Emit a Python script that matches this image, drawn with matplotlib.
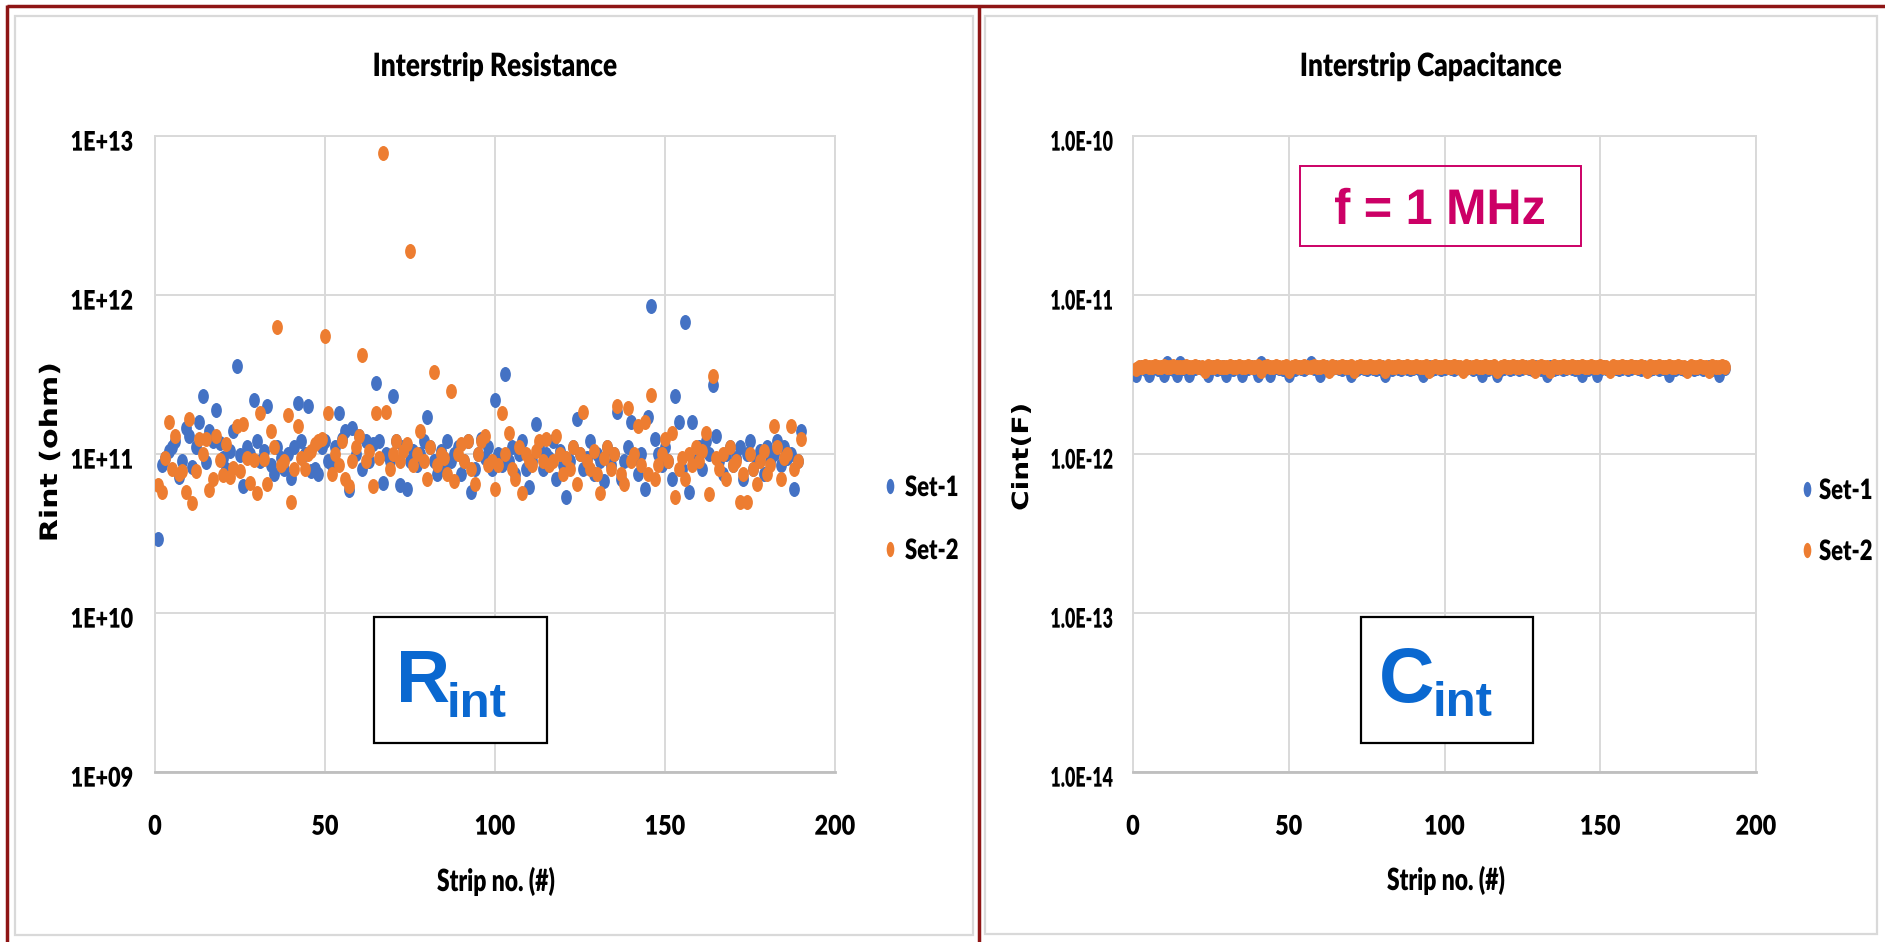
import matplotlib
matplotlib.use("Agg")
import matplotlib.pyplot as plt
from matplotlib import patheffects
from matplotlib.path import Path
from matplotlib.transforms import Affine2D
from matplotlib.patches import Rectangle
from matplotlib.textpath import TextPath
from matplotlib.font_manager import FontProperties
from matplotlib.ticker import NullLocator

# ---------------------------------------------------------------- data
strips = list(range(1, 191))

# Interstrip resistance, in units of 1e10 ohm
rint_set1 = [
    2.9, 8.5, 9.5, 10.5, 11, 12, 7.2, 9, 14.5, 13,
    8.3, 11, 16, 23, 8.9, 14, 12, 19, 11.7, 9.5,
    8, 10.5, 14, 36, 9.8, 6.3, 11, 10, 22, 12,
    9, 10.5, 20, 8.5, 7.5, 11, 9.5, 8, 10, 7.1,
    11, 21, 12, 10, 20, 7.8, 8, 7.5, 11, 12,
    9, 8.5, 11, 18, 12.5, 14, 5.9, 14.5, 10, 13,
    8, 12, 9, 11.5, 28, 12, 6.6, 10, 9, 23,
    12, 6.4, 11, 6, 9, 10.5, 8.5, 10, 12, 17,
    11, 9, 7.5, 10.5, 8, 12, 9, 10, 11, 7.5,
    9, 12, 5.8, 8, 10, 12.5, 9.5, 11, 8, 22,
    10, 8.5, 32, 9, 11, 7.5, 10, 12, 8, 6.2,
    9, 15.5, 11, 8, 10, 9.5, 12, 7, 10.5, 8.5,
    5.4, 9, 11, 16.5, 10, 8, 9.5, 12, 7.5, 10,
    9, 6.8, 11, 8.5, 10, 18.5, 7, 9, 11, 16,
    9.5, 7.5, 10, 6, 17, 85, 12.5, 10, 8.5, 11,
    9, 7, 23, 16, 8, 68, 5.8, 16, 9, 11,
    8, 12, 10, 27, 13, 9, 7.5, 10, 11, 8.5,
    9.5, 11, 7, 10, 12, 8, 9, 10.5, 7.5, 11,
    9, 10, 12, 8.5, 11, 9.5, 10, 6, 9, 14,
]
rint_set2 = [
    6.4, 5.8, 9.5, 16, 8, 13, 7.5, 7.8, 5.8, 16.5,
    4.9, 7.8, 12.5, 10, 12.5, 5.9, 7, 13, 9.2, 7.4,
    11.5, 7.2, 8.2, 15, 7.8, 15.5, 9.5, 6.6, 9.2, 5.7,
    18, 9.3, 6.5, 14, 11, 63, 8.5, 9, 17.5, 5,
    8, 15, 9.5, 8, 10, 10.5, 11.5, 12, 12.5, 55,
    18, 7.5, 10, 8.5, 12, 7, 6.3, 9, 11, 13,
    42, 9, 10.5, 6.3, 18, 9.5, 780, 18.5, 8, 10,
    12, 9, 10.5, 11.5, 190, 8.5, 10, 14, 9, 7,
    11, 33, 8.5, 10, 9.5, 7.5, 25, 6.8, 10, 11.5,
    9, 12, 8, 6.5, 10, 12, 13, 8.5, 9, 6,
    8.5, 18, 10, 13.5, 8, 7, 11, 5.7, 10, 9,
    8.5, 10.5, 12, 9, 12.5, 8.5, 9, 13, 10, 7.5,
    9.5, 8, 11, 6.5, 10, 18.5, 9, 8, 10.5, 7.5,
    5.7, 9.5, 11, 8, 10, 20, 7.5, 6.5, 19.5, 9,
    10, 15, 8.5, 16, 7.5, 23.5, 7, 8.5, 10, 12.5,
    9, 13.5, 5.4, 8, 9.5, 7, 10, 8.5, 11, 9,
    10.5, 13.5, 5.6, 31, 9.5, 8, 10, 7, 11, 8.5,
    9, 5, 7.5, 5, 10, 8, 6.5, 9, 10.5, 7.5,
    8.5, 15, 11, 7, 9.5, 10, 15, 8, 9, 12.5,
]

# Interstrip capacitance at 1 MHz, in units of 1e-12 F
cint_set1 = [
    3.15, 3.45, 3.5, 3.4, 3.15, 3.45, 3.5, 3.4, 3.45, 3.15,
    3.75, 3.45, 3.4, 3.15, 3.75, 3.45, 3.5, 3.15, 3.4, 3.45,
    3.5, 3.45, 3.4, 3.15, 3.45, 3.5, 3.4, 3.45, 3.5, 3.15,
    3.45, 3.4, 3.5, 3.45, 3.15, 3.4, 3.45, 3.5, 3.45, 3.15,
    3.75, 3.45, 3.4, 3.15, 3.45, 3.5, 3.45, 3.4, 3.5, 3.15,
    3.45, 3.4, 3.5, 3.45, 3.4, 3.5, 3.75, 3.45, 3.4, 3.15,
    3.45, 3.5, 3.4, 3.45, 3.5, 3.45, 3.4, 3.5, 3.45, 3.15,
    3.45, 3.4, 3.5, 3.45, 3.4, 3.5, 3.45, 3.4, 3.45, 3.5,
    3.15, 3.45, 3.4, 3.5, 3.45, 3.4, 3.5, 3.45, 3.4, 3.45,
    3.5, 3.4, 3.15, 3.45, 3.5, 3.4, 3.45, 3.5, 3.4, 3.45,
    3.5, 3.45, 3.4, 3.5, 3.45, 3.4, 3.45, 3.5, 3.4, 3.45,
    3.5, 3.15, 3.45, 3.4, 3.5, 3.45, 3.15, 3.4, 3.45, 3.5,
    3.4, 3.45, 3.5, 3.4, 3.45, 3.5, 3.45, 3.4, 3.5, 3.45,
    3.4, 3.45, 3.15, 3.5, 3.4, 3.45, 3.5, 3.4, 3.45, 3.5,
    3.45, 3.4, 3.5, 3.15, 3.45, 3.4, 3.5, 3.45, 3.15, 3.4,
    3.5, 3.45, 3.4, 3.5, 3.45, 3.4, 3.45, 3.5, 3.4, 3.45,
    3.5, 3.45, 3.4, 3.5, 3.45, 3.4, 3.45, 3.5, 3.4, 3.45,
    3.5, 3.15, 3.45, 3.4, 3.5, 3.45, 3.4, 3.45, 3.5, 3.4,
    3.45, 3.5, 3.4, 3.45, 3.5, 3.4, 3.45, 3.15, 3.5, 3.45,
]
cint_set2 = [
    3.4, 3.55, 3.5, 3.6, 3.55, 3.5, 3.6, 3.55, 3.5, 3.6,
    3.55, 3.5, 3.6, 3.55, 3.5, 3.55, 3.6, 3.5, 3.55, 3.6,
    3.5, 3.55, 3.35, 3.6, 3.55, 3.5, 3.6, 3.55, 3.5, 3.55,
    3.6, 3.5, 3.55, 3.6, 3.5, 3.55, 3.6, 3.55, 3.5, 3.6,
    3.35, 3.55, 3.6, 3.5, 3.55, 3.6, 3.55, 3.5, 3.6, 3.35,
    3.55, 3.6, 3.5, 3.55, 3.6, 3.55, 3.5, 3.6, 3.55, 3.5,
    3.6, 3.55, 3.35, 3.6, 3.5, 3.55, 3.6, 3.55, 3.5, 3.6,
    3.35, 3.55, 3.6, 3.5, 3.55, 3.6, 3.55, 3.5, 3.6, 3.55,
    3.35, 3.6, 3.55, 3.5, 3.6, 3.55, 3.5, 3.6, 3.55, 3.5,
    3.6, 3.55, 3.5, 3.6, 3.35, 3.55, 3.6, 3.5, 3.55, 3.6,
    3.55, 3.5, 3.6, 3.55, 3.5, 3.35, 3.6, 3.55, 3.5, 3.6,
    3.55, 3.5, 3.6, 3.55, 3.5, 3.6, 3.35, 3.55, 3.6, 3.5,
    3.55, 3.6, 3.5, 3.55, 3.6, 3.55, 3.5, 3.6, 3.35, 3.55,
    3.6, 3.5, 3.55, 3.35, 3.6, 3.55, 3.5, 3.6, 3.55, 3.5,
    3.6, 3.55, 3.5, 3.6, 3.55, 3.5, 3.6, 3.55, 3.5, 3.6,
    3.55, 3.5, 3.35, 3.6, 3.55, 3.5, 3.6, 3.55, 3.5, 3.6,
    3.55, 3.5, 3.6, 3.55, 3.35, 3.6, 3.5, 3.55, 3.6, 3.5,
    3.55, 3.6, 3.5, 3.55, 3.6, 3.55, 3.5, 3.35, 3.6, 3.55,
    3.5, 3.6, 3.55, 3.5, 3.35, 3.6, 3.55, 3.5, 3.6, 3.55,
]

series_names = ["Set-1", "Set-2"]
x_ticks = [0, 50, 100, 150, 200]
x_tick_labels = ["0", "50", "100", "150", "200"]
rint_ticks = [1e9, 1e10, 1e11, 1e12, 1e13]
rint_tick_labels = ["1E+09", "1E+10", "1E+11", "1E+12", "1E+13"]
cint_ticks = [1e-14, 1e-13, 1e-12, 1e-11, 1e-10]
cint_tick_labels = ["1.0E-14", "1.0E-13", "1.0E-12", "1.0E-11", "1.0E-10"]

# ---------------------------------------------------------------- style
W, H = 1885, 942
BLUE = "#4472C4"
ORANGE = "#ED7D31"
GRID = "#D9D9D9"
FRAME_RED = "#8E1515"
LABEL_BLUE = "#0A68D0"
MAGENTA = "#CC0066"
SANS = ["Lato", "DejaVu Sans"]
WIDE = ["DejaVu Sans"]
ARIAL = ["Liberation Sans", "DejaVu Sans"]
CAP = 0.7165  # cap height / em for Lato
HEAVY = "heavy"

# tall ellipse markers
data_marker = Path.unit_circle().transformed(Affine2D().scale(0.72, 1.0))
legend_marker = Path.unit_circle().transformed(Affine2D().scale(0.5, 1.0))

fig = plt.figure(figsize=(W / 100, H / 100), dpi=100, facecolor="white")


def px_axes(left, top, right, bottom):
    return fig.add_axes([left / W, 1 - bottom / H, (right - left) / W, (bottom - top) / H])


def style_axes(ax, yticks):
    ax.set_yscale("log")
    ax.set_xlim(0, 200)
    ax.set_ylim(yticks[0], yticks[-1])
    ax.set_xticks(x_ticks)
    ax.set_yticks(yticks)
    ax.yaxis.set_minor_locator(NullLocator())
    ax.tick_params(axis="both", length=0, labelbottom=False, labelleft=False)
    ax.grid(True, color=GRID, linewidth=1.4)
    ax.set_axisbelow(True)
    for sp in ax.spines.values():
        sp.set_color(GRID)
        sp.set_linewidth(1.4)
    ax.spines["bottom"].set_color("#BFBFBF")
    ax.spines["bottom"].set_linewidth(2)


ax1 = px_axes(155, 136, 835, 772)
ax2 = px_axes(1133, 136, 1756, 772)

rint1 = [v * 1e10 for v in rint_set1]
rint2 = [v * 1e10 for v in rint_set2]
cint1 = [v * 1e-12 for v in cint_set1]
cint2 = [v * 1e-12 for v in cint_set2]

for ax, s1, s2, yt in ((ax1, rint1, rint2, rint_ticks),
                       (ax2, cint1, cint2, cint_ticks)):
    ax.plot(strips, s1, ls="none", marker=data_marker, ms=10.8, color=BLUE,
            markeredgewidth=0, zorder=3)
    ax.plot(strips, s2, ls="none", marker=data_marker, ms=10.8, color=ORANGE,
            markeredgewidth=0, zorder=4)
    style_axes(ax, yt)

# ---------------------------------------------------------------- overlay (pixel coordinates, y down)
ov = fig.add_axes([0, 0, 1, 1])
ov.set_xlim(0, W)
ov.set_ylim(H, 0)
ov.axis("off")
ov.patch.set_alpha(0)


class Stretch(patheffects.AbstractPathEffect):
    """Stretch drawn text vertically about a fixed y position (display px)."""

    def __init__(self, sy, y0):
        super().__init__()
        self._sy = sy
        self._y0 = y0

    def draw_path(self, renderer, gc, tpath, affine, rgbFace=None):
        stretch = Affine2D().translate(0, -self._y0).scale(1, self._sy).translate(0, self._y0)
        renderer.draw_path(gc, tpath, affine + stretch, rgbFace)


def ink_width(s, family, em, weight=HEAVY):
    path = TextPath((0, 0), s, size=em, prop=FontProperties(family=family, weight=weight))
    return path.get_extents().width


def put_text(x, y, s, family, em, sx=1.0, weight=HEAVY, color="black",
             ha="left", va="baseline", rotation=0, zorder=6):
    """Text of height `em` px whose width is scaled by sx (done as a smaller
    font stretched back up vertically)."""
    t = ov.text(x, y, s, fontfamily=family, fontsize=em * sx * 0.72, fontweight=weight,
                color=color, ha=ha, va=va, rotation=rotation, zorder=zorder)
    if sx != 1.0:
        y_disp = ov.transData.transform((x, y))[1]
        t.set_path_effects([Stretch(1.0 / sx, y_disp)])
    return t


def to_px(ax, x, y):
    dx, dy = ax.transData.transform((x, y))
    return dx, H - dy


# chart-area borders
for (x0, y0, x1, y1) in ((15, 16, 973, 935), (985, 16, 1877, 934)):
    ov.add_patch(Rectangle((x0, y0), x1 - x0, y1 - y0, fill=False,
                           edgecolor=GRID, linewidth=1.6))
# outer dark-red frame
ov.plot([7, 7], [5, 942], color=FRAME_RED, lw=2.5, solid_capstyle="butt")
ov.plot([7, 1885], [5.5, 5.5], color=FRAME_RED, lw=2.5, solid_capstyle="butt")
ov.plot([978.5, 978.5], [5, 942], color=FRAME_RED, lw=2.5, solid_capstyle="butt")

# tick labels
TICK_EM = 27
tick_half_cap = CAP * TICK_EM / 2
sx_y = 61 / ink_width("1E+10", SANS, TICK_EM)
sx_y2 = 61 / ink_width("1.0E-13", SANS, TICK_EM)
sx_x = 39 / ink_width("100", SANS, TICK_EM)
for ax, yt, yl, right_edge, sx in ((ax1, rint_ticks, rint_tick_labels, 133, sx_y),
                                   (ax2, cint_ticks, cint_tick_labels, 1113, sx_y2)):
    for v, lab in zip(yt, yl):
        _, py = to_px(ax, 0, v)
        put_text(right_edge, py + 5 + tick_half_cap, lab, SANS, TICK_EM, sx=sx, ha="right")
    for v, lab in zip(x_ticks, x_tick_labels):
        px, _ = to_px(ax, v, yt[0])
        put_text(px, 825 + tick_half_cap, lab, SANS, TICK_EM, sx=sx_x, ha="center")

# titles
TITLE_EM = 32
sx_t = 242 / ink_width("Interstrip Resistance", SANS, TITLE_EM)
put_text(495, 76, "Interstrip Resistance", SANS, TITLE_EM, sx=sx_t, ha="center")
put_text(1431, 76, "Interstrip Capacitance", SANS, TITLE_EM, sx=sx_t, ha="center")

# axis labels
XL_EM = 30.5
sx_xl = 117 / ink_width("Strip no. (#)", SANS, XL_EM)
put_text(496, 891, "Strip no. (#)", SANS, XL_EM, sx=sx_xl, ha="center")
put_text(1446, 890, "Strip no. (#)", SANS, XL_EM, sx=sx_xl, ha="center")
# rotated labels: the font is shrunk across the line and stretched along it
put_text(50, 452, "Rint (ohm)", WIDE, 30, sx=0.8, weight="bold",
         ha="center", va="center", rotation=90)
put_text(1022, 457, "Cint(F)", WIDE, 28, sx=0.8, weight="bold",
         ha="center", va="center", rotation=90)

# legends
LEG_EM = 28
sx_l = 52 / ink_width("Set-1", SANS, LEG_EM)
for (mx, tx, ys) in ((890, 905, (486, 549)), (1807, 1819, (489, 550))):
    for name, col, y in zip(series_names, (BLUE, ORANGE), ys):
        ov.plot([mx], [y], ls="none", marker=legend_marker, ms=11, color=col,
                markeredgewidth=0)
        put_text(tx, y + CAP * LEG_EM / 2, name, SANS, LEG_EM, sx=sx_l)

# annotation boxes
for (x0, y0, x1, y1) in ((374, 617, 547, 743), (1361, 617, 1533, 743)):
    ov.add_patch(Rectangle((x0, y0), x1 - x0, y1 - y0, facecolor="white",
                           edgecolor="black", linewidth=1.6, zorder=5))
put_text(396, 702, "R", ARIAL, 75, weight="bold", color=LABEL_BLUE)
put_text(447, 717, "int", ARIAL, 49, weight="bold", color=LABEL_BLUE)
put_text(1379, 702, "C", ARIAL, 77, weight="bold", color=LABEL_BLUE)
put_text(1433, 716, "int", ARIAL, 49, weight="bold", color=LABEL_BLUE)

ov.add_patch(Rectangle((1300, 166), 281, 80, fill=False, edgecolor=MAGENTA,
                       linewidth=1.4, zorder=5))
F_EM = 50
sx_f = 209 / ink_width("f = 1 MHz", ARIAL, F_EM, weight="bold")
put_text(1440, 224, "f = 1 MHz", ARIAL, F_EM, sx=sx_f, weight="bold",
         color=MAGENTA, ha="center")

fig.savefig("out.png", dpi=100, facecolor="white")
